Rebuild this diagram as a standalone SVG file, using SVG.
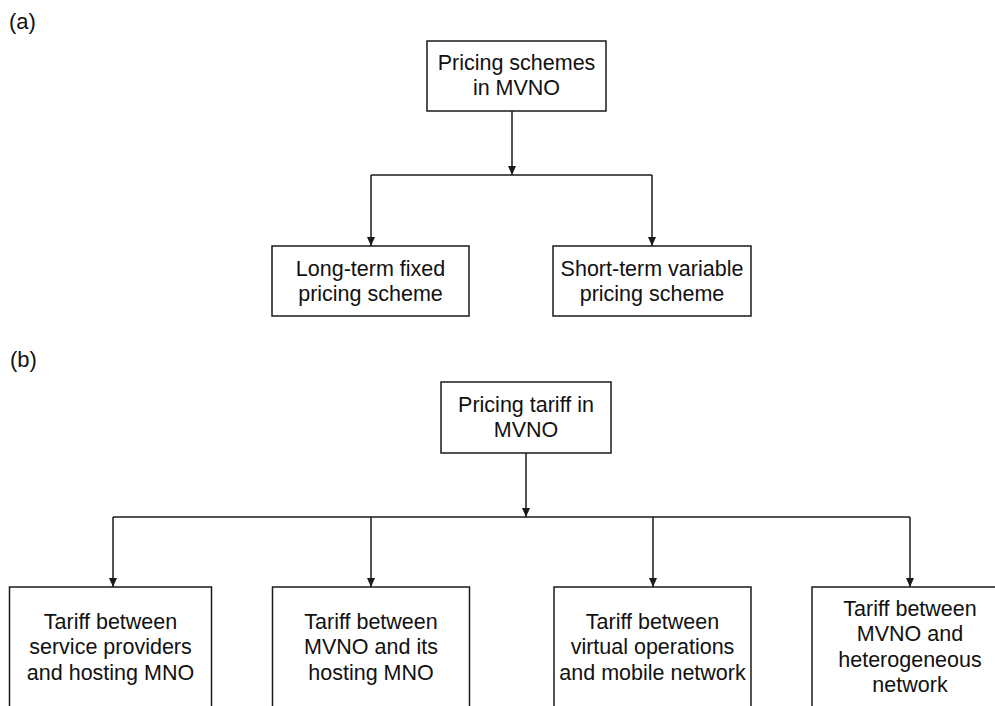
<svg xmlns="http://www.w3.org/2000/svg" width="995" height="706" viewBox="0 0 995 706">
  <style>
    .box { fill: #ffffff; stroke: #1a1a1a; stroke-width: 1.5; }
    .lbl { font-family: "Liberation Sans", Arial, sans-serif; font-size: 21.5px; fill: #111111; text-anchor: middle; }
    .tag { font-family: "Liberation Sans", Arial, sans-serif; font-size: 22px; fill: #111111; }
    .wire { fill: none; stroke: #1a1a1a; stroke-width: 1.5; }
  </style>
  <defs>
    <marker id="arrow" markerUnits="userSpaceOnUse" markerWidth="10" markerHeight="10" refX="9" refY="4" orient="auto">
      <path d="M0,0 L9,4 L0,8 z" fill="#1a1a1a"/>
    </marker>
  </defs>
  <rect width="995" height="706" fill="#ffffff"/>

  <!-- panel labels -->
  <text class="tag" x="9" y="29">(a)</text>
  <text class="tag" x="10" y="367">(b)</text>

  <!-- connectors -->
  <g id="connectors">
    <!-- panel (a) -->
    <line class="wire" x1="512" y1="111" x2="512" y2="175" marker-end="url(#arrow)"/>
    <line class="wire" x1="371" y1="175" x2="652" y2="175"/>
    <line class="wire" x1="371" y1="175" x2="371" y2="246" marker-end="url(#arrow)"/>
    <line class="wire" x1="652" y1="175" x2="652" y2="246" marker-end="url(#arrow)"/>
    <!-- panel (b) -->
    <line class="wire" x1="526" y1="453" x2="526" y2="517" marker-end="url(#arrow)"/>
    <line class="wire" x1="113" y1="517" x2="910" y2="517"/>
    <line class="wire" x1="113" y1="517" x2="113" y2="587" marker-end="url(#arrow)"/>
    <line class="wire" x1="371" y1="517" x2="371" y2="587" marker-end="url(#arrow)"/>
    <line class="wire" x1="653" y1="517" x2="653" y2="587" marker-end="url(#arrow)"/>
    <line class="wire" x1="910" y1="517" x2="910" y2="587" marker-end="url(#arrow)"/>
  </g>

  <!-- panel (a) nodes -->
  <g id="schemes">
    <rect class="box" x="427" y="41" width="179" height="70"/>
    <text class="lbl" x="516.5" y="70">Pricing schemes</text>
    <text class="lbl" x="516.5" y="95">in MVNO</text>
  </g>
  <g id="long-term">
    <rect class="box" x="272" y="246" width="197" height="70"/>
    <text class="lbl" x="370.5" y="276">Long-term fixed</text>
    <text class="lbl" x="370.5" y="301">pricing scheme</text>
  </g>
  <g id="short-term">
    <rect class="box" x="553" y="246" width="198" height="70"/>
    <text class="lbl" x="652" y="276">Short-term variable</text>
    <text class="lbl" x="652" y="301">pricing scheme</text>
  </g>

  <!-- panel (b) nodes -->
  <g id="tariff">
    <rect class="box" x="441" y="382" width="170" height="71"/>
    <text class="lbl" x="526" y="411.5">Pricing tariff in</text>
    <text class="lbl" x="526" y="436.5">MVNO</text>
  </g>
  <g id="sp-mno">
    <rect class="box" x="9.5" y="587" width="202" height="140"/>
    <text class="lbl" x="110.5" y="628.5">Tariff between</text>
    <text class="lbl" x="110.5" y="654">service providers</text>
    <text class="lbl" x="110.5" y="679.5">and hosting MNO</text>
  </g>
  <g id="mvno-mno">
    <rect class="box" x="272.5" y="587" width="197" height="140"/>
    <text class="lbl" x="371" y="628.5">Tariff between</text>
    <text class="lbl" x="371" y="654">MVNO and its</text>
    <text class="lbl" x="371" y="679.5">hosting MNO</text>
  </g>
  <g id="virtual-mobile">
    <rect class="box" x="554" y="587" width="197" height="140"/>
    <text class="lbl" x="652.5" y="628.5">Tariff between</text>
    <text class="lbl" x="652.5" y="654">virtual operations</text>
    <text class="lbl" x="652.5" y="679.5">and mobile network</text>
  </g>
  <g id="mvno-hetero">
    <rect class="box" x="812" y="587" width="197" height="140"/>
    <text class="lbl" x="910" y="616">Tariff between</text>
    <text class="lbl" x="910" y="641">MVNO and</text>
    <text class="lbl" x="910" y="666.5">heterogeneous</text>
    <text class="lbl" x="910" y="692">network</text>
  </g>
</svg>
